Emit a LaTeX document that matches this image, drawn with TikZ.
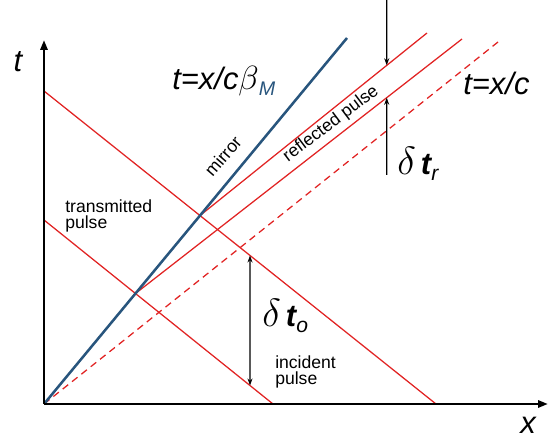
\documentclass[tikz,border=0pt]{standalone}
\usepackage{fontspec}
\setmainfont{Liberation Sans}
\usepackage{tikz}
\usetikzlibrary{arrows.meta}
\usepackage{xcolor}
\definecolor{pulsered}{RGB}{225,35,35}
\definecolor{mirrorblue}{RGB}{40,85,125}
\newcommand{\lowsub}[2]{\raisebox{-#1}{\fontsize{15}{15}\selectfont #2}}
\newcommand{\bigdelta}{\scalebox{1.35}{$\delta$}}

\begin{document}
\begin{tikzpicture}[x=0.025cm,y=0.025cm,
    pulse/.style={pulsered,line width=0.9pt},
    axis/.style={line width=2pt,-{Triangle[length=7pt,width=5pt]}},
    gap/.style={line width=0.8pt,-{Stealth[length=5pt,width=3.5pt]}},
    lab/.style={font=\fontsize{12.5}{12}\selectfont,inner sep=0pt,align=left},
    big/.style={font=\fontsize{22}{26}\selectfont\itshape,inner sep=0pt}]
  \useasboundingbox (-44,-36) rectangle (504,404);
  % axes and light lines
  \coordinate (o) at (0,0);
  \coordinate (xend) at (504,0);
  \coordinate (tend) at (0,364);
  \coordinate (m) at (303,366);
  \coordinate (c) at (454,362);
  % incident pulse edges
  \coordinate (a1) at (0,313); \coordinate (a2) at (392,0);
  \coordinate (b1) at (0,184); \coordinate (b2) at (229,0);
  \coordinate (m1) at (intersection of o--m and b1--b2);
  \coordinate (m2) at (intersection of o--m and a1--a2);
  % reflected pulse edges
  \coordinate (r1) at (418,365);
  \coordinate (r2) at (383,371);
  % where the widths are read off
  \coordinate (p1) at (206,0); \coordinate (p2) at (206,404);
  \coordinate (q1) at (342.7,0); \coordinate (q2) at (342.7,404);
  \coordinate (q3) at (342.7,229);
  \coordinate (d1) at (intersection of p1--p2 and a1--a2);
  \coordinate (d2) at (intersection of p1--p2 and b1--b2);
  \coordinate (e1) at (intersection of q1--q2 and m2--r2);
  \coordinate (e2) at (intersection of q1--q2 and m1--r1);

  \draw[pulse,dashed,dash pattern=on 5pt off 3.5pt] (o) -- (c);
  \draw[pulse] (a1) -- (a2);
  \draw[pulse] (b1) -- (b2);
  \draw[pulse] (m1) -- (r1);
  \draw[pulse] (m2) -- (r2);
  \draw[mirrorblue,line width=1.8pt] (o) -- (m);
  \draw[axis] (o) -- (xend);
  \draw[axis] (o) -- (tend);

  \draw[gap,{Stealth[length=5pt,width=3.5pt]}-{Stealth[length=5pt,width=3.5pt]}] (d1) -- (d2);
  \draw[gap] (q2) -- (e1);
  \draw[gap] (q3) -- (e2);

  % labels
  \node[big] (tlab) at (-26,342) {t};
  \node[big] (xlab) at (484,-21) {x};
  \node[big,anchor=base west] (mlab) at (128,314) {t=x/c\scalebox{1.15}{$\beta$}\lowsub{4pt}{\fontsize{14}{14}\selectfont\color{mirrorblue}M}};
  \node[big,anchor=base west] (clab) at (419,309) {t=x/c};
  \node[big,anchor=base west] (trlab) at (353,229) {\bigdelta\,\textbf{t}\lowsub{4pt}{r}};
  \node[big,anchor=base west] (tolab) at (218,77) {\bigdelta\,\textbf{t}\lowsub{4pt}{o}};
  \node[lab,rotate=49] (mirror) at (179,248) {mirror};
  \node[lab,rotate=37] (refl) at (287,280) {reflected pulse};
  \node[lab,anchor=west] (trans) at (21,188) {transmitted\\pulse};
  \node[lab,anchor=west] (inc) at (231,32) {incident\\pulse};
\end{tikzpicture}
\end{document}
